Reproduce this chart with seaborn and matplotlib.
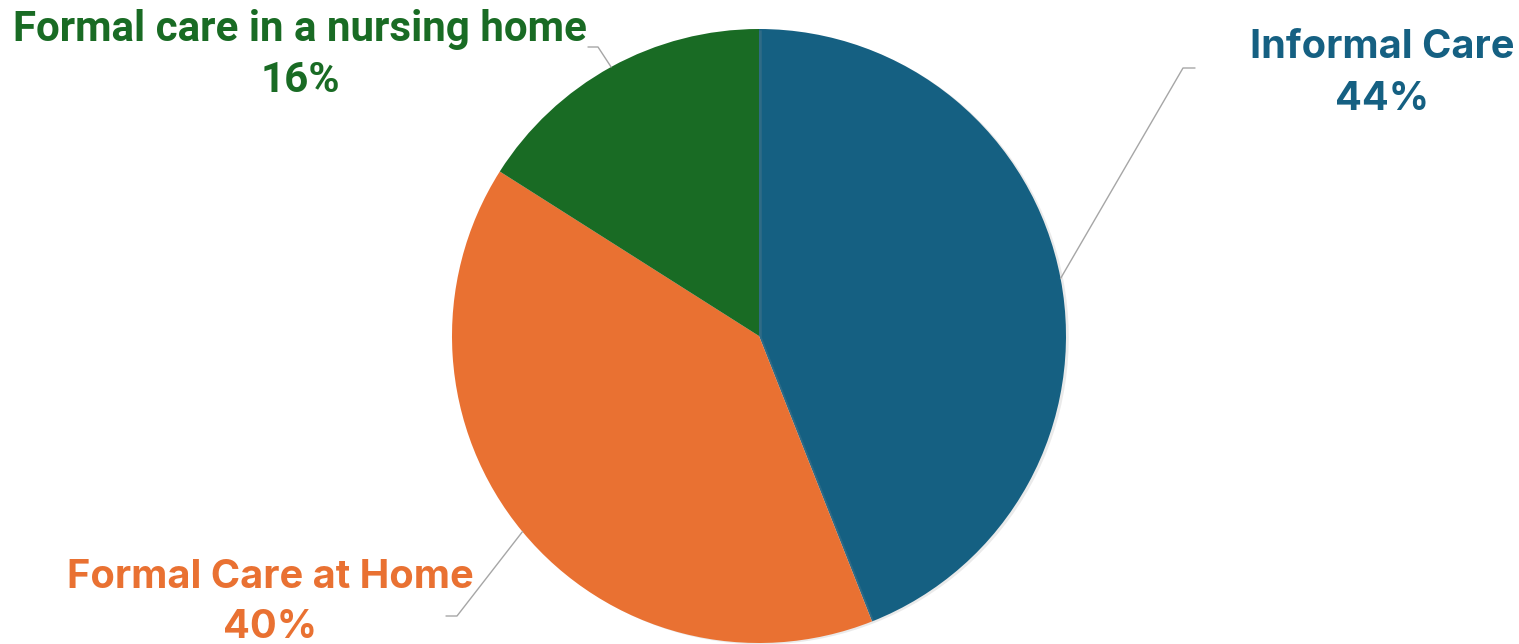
import numpy as np
import matplotlib
matplotlib.use("Agg")
import matplotlib.pyplot as plt
import matplotlib.patheffects as pe
import seaborn as sns

# Share of long-term care by type
categories = ["Informal Care", "Formal Care at Home", "Formal care in a nursing home"]
shares = [44, 40, 16]
colors = ["#156082", "#E97132", "#196B24"]

sns.set_theme(style="white")
plt.rcParams["font.family"] = ["Inter", "DejaVu Sans"]

W, H, DPI = 1519, 644, 100
fig = plt.figure(figsize=(W / DPI, H / DPI), dpi=DPI)
fig.patch.set_facecolor("white")

# pie placement in pixels (centre and radius)
cx, cy, r = 759, 336, 307
ax = fig.add_axes([(cx - r) / W, (H - cy - r) / H, 2 * r / W, 2 * r / H])

palette = sns.color_palette(colors)
wedges, _ = ax.pie(shares, colors=palette, startangle=90, counterclock=False,
                   radius=1, wedgeprops=dict(linewidth=0))
for w in wedges:
    w.set_path_effects([pe.SimplePatchShadow(offset=(2, -1), shadow_rgbFace="0.6",
                                             alpha=0.2), pe.Normal()])
ax.set_xlim(-1, 1)
ax.set_ylim(-1, 1)
ax.set_aspect("equal")
ax.axis("off")


def px(x, y):
    """pixel position -> data coordinates of the pie axes"""
    return (x - cx) / r, (cy - y) / r


# label centres (pixel) and leader elbow points
label_pos = {
    "Informal Care": ((1382, 47), (1382, 99)),
    "Formal Care at Home": ((270, 578), (270, 628)),
    "Formal care in a nursing home": ((300, 30), (300, 81)),
}
elbows = {
    "Informal Care": [(1183, 68), (1195, 68)],
    "Formal Care at Home": [(457, 616), (446, 616)],
    "Formal care in a nursing home": [(598, 47), (588, 47)],
}
fonts = {
    "Informal Care": (["Inter", "DejaVu Sans"], 28.6),
    "Formal Care at Home": (["Inter", "DejaVu Sans"], 28.6),
    "Formal care in a nursing home": (["Roboto", "DejaVu Sans"], 30.3),
}

for w, cat, val, col in zip(wedges, categories, shares, colors):
    mid = np.deg2rad((w.theta1 + w.theta2) / 2)
    start = (np.cos(mid), np.sin(mid))
    pts = [start] + [px(*p) for p in elbows[cat]]
    xs, ys = zip(*pts)
    ax.plot(xs, ys, color="#A6A6A6", lw=1.0, clip_on=False, zorder=1)
    fam, size = fonts[cat]
    (l1, l2) = label_pos[cat]
    ax.text(*px(*l1), cat, ha="center", va="center", color=col,
            fontsize=size, fontweight="bold", family=fam, clip_on=False)
    ax.text(*px(*l2), f"{val}%", ha="center", va="center", color=col,
            fontsize=size, fontweight="bold", family=fam, clip_on=False)

fig.savefig("out.png", dpi=DPI, facecolor="white")
